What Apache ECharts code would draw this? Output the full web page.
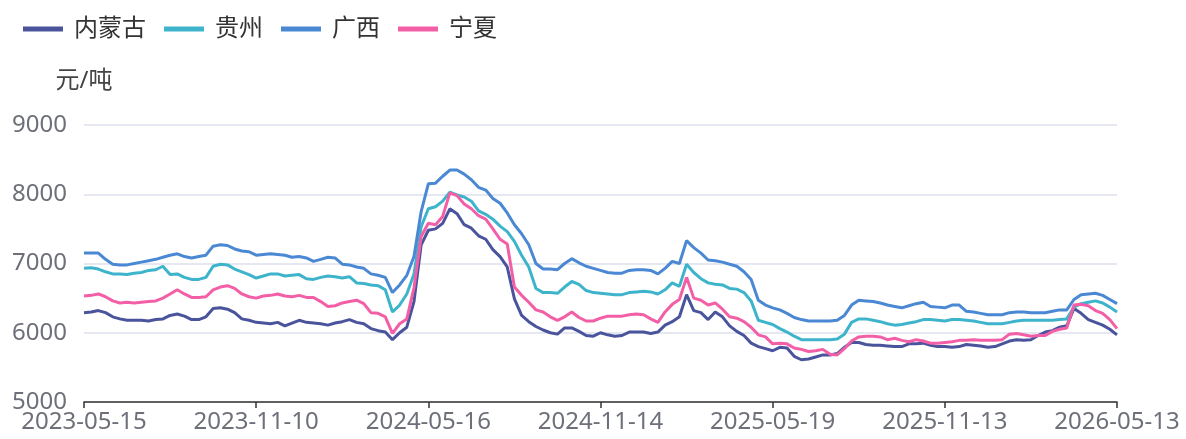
<!DOCTYPE html>
<html>
<head>
<meta charset="utf-8">
<script src="https://cdn.jsdelivr.net/npm/echarts@6/dist/echarts.min.js"></script>
<style>
  html, body { margin: 0; padding: 0; background: #fff; }
  #main { width: 1186px; height: 439px; }
</style>
</head>
<body>
<div id="main"></div>
<script>
// axis label dates (evenly spaced on the category axis)
const labelDates = ['2023-05-15', '2023-11-10', '2024-05-16', '2024-11-14', '2025-05-19', '2025-11-13', '2026-05-13'];
const stepsPerLabel = 24;

const names = ['内蒙古', '贵州', '广西', '宁夏'];
const colors = ['#4a549c', '#3eb4cc', '#4a88d3', '#f35fa6'];

// 元/吨
const neimenggu = [
  6290, 6300, 6320, 6290, 6230, 6200, 6180, 6180, 6180, 6170, 6190, 6200, 6250, 6270, 6240, 6190, 6190, 6230, 6350, 6360, 6340, 6290, 6200, 6180,
  6150, 6140, 6130, 6150, 6100, 6140, 6180, 6150, 6140, 6130, 6110, 6140, 6160, 6190, 6150, 6130, 6060, 6030, 6010, 5900, 6000, 6080, 6450, 7270,
  7480, 7500, 7580, 7790, 7720, 7560, 7510, 7400, 7350, 7200, 7100, 6950, 6490, 6250, 6160, 6090, 6040, 6000, 5980, 6070, 6070, 6020, 5960, 5950,
  6000, 5970, 5950, 5960, 6010, 6010, 6010, 5990, 6010, 6110, 6160, 6230, 6550, 6320, 6290, 6190, 6300, 6230, 6100, 6020, 5960, 5850, 5800, 5770,
  5740, 5790, 5780, 5660, 5610, 5620, 5650, 5680, 5680, 5700, 5790, 5860, 5860, 5830, 5820, 5820, 5810, 5800, 5800, 5840, 5840, 5850, 5820, 5800,
  5800, 5790, 5800, 5830, 5820, 5810, 5790, 5800, 5840, 5880, 5900, 5890, 5900, 5960, 6010, 6030, 6080, 6100, 6350, 6280, 6190, 6150, 6110, 6050, 5970
];
const guizhou = [
  6930, 6940, 6920, 6880, 6850, 6850, 6840, 6860, 6870, 6900, 6910, 6960, 6840, 6850, 6800, 6770, 6770, 6800, 6960, 6990, 6980, 6920, 6880, 6840,
  6790, 6820, 6850, 6850, 6820, 6830, 6840, 6780, 6770, 6800, 6820, 6810, 6790, 6810, 6720, 6710, 6690, 6680, 6620, 6300, 6400, 6560, 6850, 7530,
  7790, 7820, 7900, 8030, 7990, 7960, 7900, 7760, 7710, 7640, 7540, 7460, 7320, 7120, 6950, 6640, 6580, 6580, 6570, 6660, 6740, 6700, 6610, 6580,
  6570, 6560, 6550, 6550, 6580, 6590, 6600, 6590, 6560, 6620, 6720, 6670, 6990, 6870, 6780, 6720, 6700, 6690, 6640, 6630, 6580, 6460, 6180, 6150,
  6120, 6060, 6010, 5950, 5900, 5900, 5900, 5900, 5900, 5910, 5980, 6150, 6200, 6200, 6180, 6160, 6130, 6110, 6120, 6140, 6160, 6190, 6190, 6180,
  6170, 6190, 6190, 6180, 6170, 6150, 6130, 6130, 6130, 6150, 6170, 6180, 6180, 6180, 6180, 6180, 6190, 6200, 6370, 6420, 6440, 6460, 6430, 6370, 6300
];
const guangxi = [
  7150, 7150, 7150, 7060, 6990, 6980, 6980, 7000, 7020, 7040, 7060, 7090, 7120, 7140, 7100, 7080, 7100, 7120, 7250, 7270, 7260, 7210, 7180, 7170,
  7120, 7130, 7140, 7130, 7120, 7090, 7100, 7080, 7030, 7060, 7090, 7080, 6990, 6980, 6950, 6930, 6850, 6830, 6800, 6580, 6690, 6830, 7100, 7750,
  8150, 8160, 8260, 8350, 8350, 8290, 8210, 8100, 8060, 7940, 7870, 7730, 7560, 7430, 7270, 7000, 6920, 6920, 6910, 7000, 7070, 7010, 6960, 6930,
  6900, 6870, 6860, 6860, 6900, 6910, 6910, 6900, 6850, 6930, 7030, 7000, 7330, 7230, 7150, 7050, 7040, 7020, 6990, 6960, 6880, 6770, 6470, 6400,
  6360, 6330, 6280, 6220, 6190, 6170, 6170, 6170, 6170, 6180, 6250, 6400, 6470, 6460, 6450, 6430, 6400, 6380, 6360, 6390, 6420, 6440, 6380, 6370,
  6360, 6400, 6400, 6310, 6300, 6280, 6260, 6260, 6260, 6290, 6300, 6300, 6290, 6290, 6290, 6310, 6330, 6330, 6480, 6550, 6560, 6570, 6540, 6480, 6420
];
const ningxia = [
  6530, 6540, 6560, 6520, 6460, 6430, 6440, 6430, 6440, 6450, 6460, 6500, 6560, 6620, 6560, 6510, 6510, 6520, 6620, 6660, 6680, 6640, 6560, 6520,
  6500, 6530, 6540, 6560, 6530, 6520, 6540, 6510, 6510, 6450, 6380, 6390, 6430, 6450, 6470, 6420, 6290, 6280, 6230, 5990, 6130, 6200, 6650, 7390,
  7580, 7560, 7680, 8020, 7980, 7860, 7790, 7690, 7640, 7500, 7350, 7280, 6660, 6540, 6440, 6330, 6300, 6230, 6180, 6230, 6300, 6220, 6170, 6170,
  6210, 6240, 6240, 6240, 6260, 6270, 6260, 6200, 6150, 6300, 6410, 6480, 6800, 6500, 6470, 6400, 6430, 6340, 6230, 6210, 6160, 6080, 5970, 5940,
  5840, 5850, 5840, 5780, 5760, 5730, 5740, 5760, 5690, 5680, 5770, 5880, 5940, 5950, 5950, 5940, 5900, 5920, 5890, 5870, 5900, 5880, 5850, 5850,
  5860, 5870, 5890, 5890, 5900, 5890, 5890, 5890, 5900, 5980, 5990, 5970, 5950, 5960, 5960, 6020, 6050, 6070, 6400, 6410, 6390, 6320, 6280, 6190, 6060
];

// category dates: the label dates plus evenly spread dates between them
const pad = n => (n < 10 ? '0' : '') + n;
const fmt = d => d.getUTCFullYear() + '-' + pad(d.getUTCMonth() + 1) + '-' + pad(d.getUTCDate());
const dates = [];
for (let s = 0; s < labelDates.length - 1; s++) {
  const a = Date.parse(labelDates[s]), b = Date.parse(labelDates[s + 1]);
  for (let k = 0; k < stepsPerLabel; k++) {
    dates.push(k === 0 ? labelDates[s] : fmt(new Date(a + Math.round((b - a) * k / stepsPerLabel / 864e5) * 864e5)));
  }
}
dates.push(labelDates[labelDates.length - 1]);

const font = "'Noto Sans', 'Noto Sans CJK SC', sans-serif";
const values = [neimenggu, guizhou, guangxi, ningxia];

const chart = echarts.init(document.getElementById('main'));
chart.setOption({
  animation: false,
  textStyle: { fontFamily: font },
  legend: {
    left: 18,
    top: 12,
    icon: 'rect',
    itemWidth: 40,
    itemHeight: 5,
    itemGap: 18,
    textStyle: { fontSize: 24, color: '#333', fontFamily: font, padding: [0, 0, 0, 6] },
    data: names
  },
  grid: {
    left: 84, right: 69, top: 125, bottom: 37,
    containLabel: false,
    outerBoundsMode: 'none'
  },
  xAxis: {
    type: 'category',
    boundaryGap: false,
    data: dates,
    axisLine: { lineStyle: { color: '#333', width: 1.5 } },
    axisTick: { interval: stepsPerLabel - 1, length: 6, lineStyle: { color: '#333', width: 1.5 } },
    axisLabel: { interval: stepsPerLabel - 1, fontSize: 24, color: '#6e7079', margin: 8, fontFamily: font }
  },
  yAxis: {
    type: 'value',
    min: 5000,
    max: 9000,
    interval: 1000,
    name: '元/吨',
    nameGap: 32,
    nameTextStyle: { fontSize: 24, color: '#444', fontFamily: font },
    axisLine: { show: false },
    axisTick: { show: false },
    axisLabel: { fontSize: 24, color: '#6e7079', margin: 17, fontFamily: font, formatter: v => String(v) },
    splitLine: { lineStyle: { color: '#dde0eb', width: 1.5 } }
  },
  series: names.map((n, i) => ({
    name: n,
    type: 'line',
    symbol: 'none',
    data: values[i],
    itemStyle: { color: colors[i] },
    lineStyle: { color: colors[i], width: 3 }
  }))
});
</script>
</body>
</html>
